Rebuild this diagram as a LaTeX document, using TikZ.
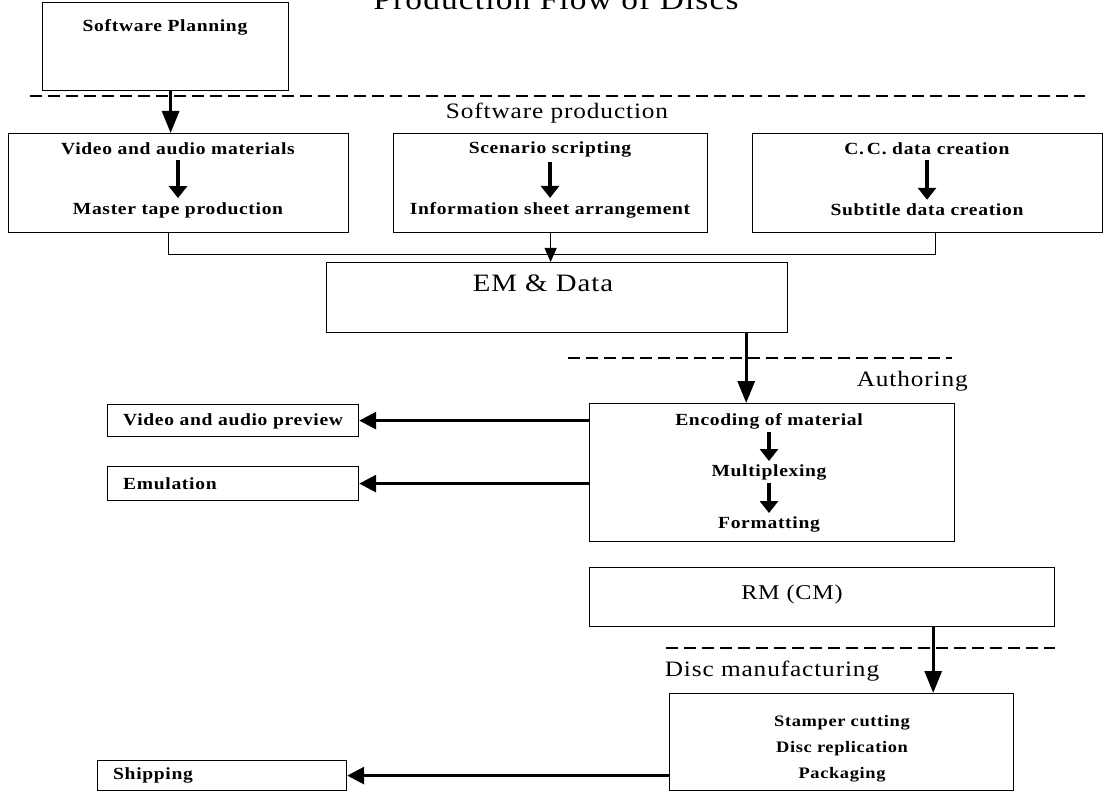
\documentclass[tikz,border=0pt]{standalone}
\usepackage{fontspec}
\setmainfont{Liberation Serif}
\newfontfamily\wide[FakeStretch=1.15,LetterSpace=4]{Liberation Serif}
\usetikzlibrary{arrows.meta}
\tikzset{
  box/.style={draw, line width=1.2pt, inner sep=0pt, anchor=north west},
  small/.style={font=\wide\bfseries\fontsize{17}{19}\selectfont, inner sep=0pt},
  head/.style={font=\wide\fontsize{22}{25}\selectfont, inner sep=0pt},
  bigarrow/.style={line width=3pt, -{Triangle[length=22pt,width=17pt]}},
  sidearrow/.style={line width=3pt, -{Triangle[length=17pt,width=17pt]}},
  midarrow/.style={line width=1pt, -{Triangle[length=14pt,width=12pt]}},
  tinyarrow/.style={line width=3.2pt, -{Triangle[length=12pt,width=18pt]}},
  thinline/.style={line width=1.2pt},
  sepline/.style={line width=1.8pt, dash pattern=on 12pt off 6pt},
}
\begin{document}
\begin{tikzpicture}[x=1pt,y=-1pt]
\useasboundingbox (0,0) rectangle (1110,794);
\fill[white] (0,0) rectangle (1110,794);

% title (partly cut off at the top)
\node[font=\wide\fontsize{29}{32}\selectfont, anchor=base, inner sep=0pt] (title) at (556,10) {Production Flow of Discs};

% boxes
\node[box, minimum width=246pt, minimum height=88pt] (plan) at (42,2) {};
\node[box, minimum width=340pt, minimum height=99pt] (video) at (8,133) {};
\node[box, minimum width=314pt, minimum height=99pt] (scen) at (393,133) {};
\node[box, minimum width=350pt, minimum height=99pt] (cc) at (752,133) {};
\node[box, minimum width=461pt, minimum height=70pt] (em) at (326,262) {};
\node[box, minimum width=365pt, minimum height=138pt] (auth) at (589,403) {};
\node[box, minimum width=251pt, minimum height=32pt] (prev) at (107,404) {};
\node[box, minimum width=251pt, minimum height=34pt] (emu) at (107,466) {};
\node[box, minimum width=465pt, minimum height=59pt] (rm) at (589,567) {};
\node[box, minimum width=344pt, minimum height=97pt] (disc) at (669,693) {};
\node[box, minimum width=249pt, minimum height=30pt] (ship) at (97,760) {};

% separators
\draw[sepline] (30,96) -- (1085,96);
\draw[sepline] (568,358) -- (952,358);
\draw[sepline] (666,648) -- (1055,648);

% texts
\node[small] (tplan) at (165,27) {Software Planning};
\node[head] (tprod) at (557,113) {Software production};

\node[small] (v1) at (178,149) {Video and audio materials};
\node[small] (v2) at (178,210) {Master tape production};
\node[small] (s1) at (550,149) {Scenario scripting};
\node[small] (s2) at (550,210) {Information sheet arrangement};
\node[small] (c1) at (927,149) {C.\,C. data creation};
\node[small] (c2) at (927,210) {Subtitle data creation};

\node[head, font=\wide\fontsize{25}{28}\selectfont] (tem) at (543,283) {EM \& Data};
\node[head, anchor=east] (tauth) at (968,381) {Authoring};

\node[small] (a1) at (769,421) {Encoding of material};
\node[small] (a2) at (769,472) {Multiplexing};
\node[small] (a3) at (769,524) {Formatting};

\node[small, anchor=west] (tprev) at (123,421) {Video and audio preview};
\node[small, anchor=west] (temu) at (123,484) {Emulation};

\node[head, font=\wide\fontsize{21}{24}\selectfont] (trm) at (792,594) {RM (CM)};
\node[head] (tdm) at (772,671) {Disc manufacturing};

\node[small, font=\wide\bfseries\fontsize{16}{18}\selectfont] (d1) at (842,723) {Stamper cutting};
\node[small, font=\wide\bfseries\fontsize{16}{18}\selectfont] (d2) at (842,749) {Disc replication};
\node[small, font=\wide\bfseries\fontsize{16}{18}\selectfont] (d3) at (842,775) {Packaging};

\node[small, anchor=west] (tship) at (113,775) {Shipping};

% inner arrows
\draw[tinyarrow] ([yshift=-5pt]v1.south) -- ([yshift=4pt]v2.north);
\draw[tinyarrow] ([yshift=-5pt]s1.south) -- ([yshift=4pt]s2.north);
\draw[tinyarrow] ([yshift=-5pt]c1.south) -- ([yshift=4pt]c2.north);
\draw[tinyarrow] ([yshift=-3pt]a1.south) -- ([yshift=3pt]a2.north);
\draw[tinyarrow] ([yshift=-3pt]a2.south) -- ([yshift=3pt]a3.north);

% connectors
\draw[bigarrow] ([xshift=5pt]plan.south) -- ([xshift=5pt]plan.south |- video.north);
\draw[thinline] ([xshift=-10pt]video.south) -- ++(0,21) -| ([xshift=8pt]cc.south);
\draw[midarrow] (scen.south) -- (scen.south |- em.north);
\draw[bigarrow] ([xshift=-42pt]em.south east) -- ([xshift=-42pt]em.south east |- auth.north);
\draw[sidearrow] (prev.east -| auth.west) -- (prev.east);
\draw[sidearrow] (emu.east -| auth.west) -- (emu.east);
\draw[bigarrow] ([xshift=-122pt]rm.south east) -- ([xshift=-122pt]rm.south east |- disc.north);
\draw[sidearrow] (ship.east -| disc.west) -- (ship.east);
\end{tikzpicture}
\end{document}
